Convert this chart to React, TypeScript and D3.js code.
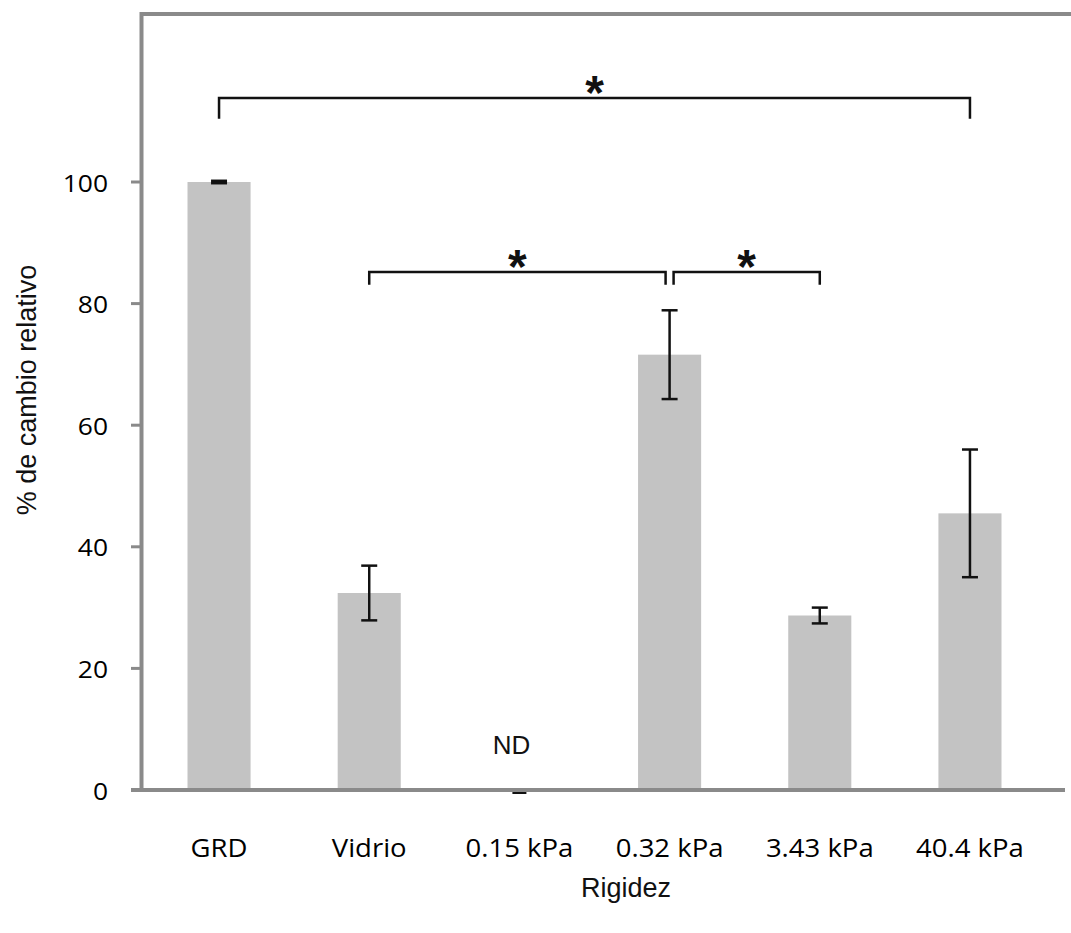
import React from "react";
import * as d3 from "d3";

const categories = ["GRD", "Vidrio", "0.15 kPa", "0.32 kPa", "3.43 kPa", "40.4 kPa"];
const means = [100, 32.4, 0, 71.6, 28.7, 45.5];
const errors = [0.2, 4.5, 0, 7.3, 1.3, 10.5];
const notDetected = ["0.15 kPa"];
const yTicks = [0, 20, 40, 60, 80, 100];
const brackets = [
  { from: "GRD", to: "40.4 kPa", level: 113.8, drop: 3.4, gapL: 0, gapR: 0 },
  { from: "Vidrio", to: "0.32 kPa", level: 85.2, drop: 2.1, gapL: 0, gapR: -4 },
  { from: "0.32 kPa", to: "3.43 kPa", level: 85.2, drop: 2.1, gapL: 4, gapR: 0 },
];
const yTitle = "% de cambio relativo";
const xTitle = "Rigidez";

const W = 1071;
const H = 933;
const AXIS = "#8a8a8a";
const BAR = "#c3c3c3";
const CAL = "'Open Sans', 'Noto Sans', sans-serif";
const ARIAL = "'Liberation Sans', Arial, sans-serif";

export default function App() {
  const x = d3.scaleBand<string>().domain(categories).range([187.5, 1001.5]).paddingInner(0.58).paddingOuter(0);
  const y = d3.scaleLinear().domain([0, 100]).range([790, 182]);
  const cx = (c: string) => (x(c) ?? 0) + x.bandwidth() / 2;
  const data = categories.map((c, i) => ({ c, m: means[i], e: errors[i] }));
  const capW = 16;

  return (
    <svg width={W} height={H} style={{ position: "absolute", left: 0, top: 0, background: "#fff" }}>
      {/* frame */}
      <line x1={141.5} x2={W} y1={14} y2={14} stroke={AXIS} strokeWidth={4} />
      <line x1={141.5} x2={141.5} y1={12} y2={y(0)} stroke={AXIS} strokeWidth={4} />
      {/* bars */}
      {data.map((d) =>
        d.m > 0 ? (
          <rect key={d.c} x={x(d.c)} y={y(d.m)} width={x.bandwidth()} height={y(0) - y(d.m)} fill={BAR} />
        ) : null
      )}
      {/* x axis */}
      <line x1={131} x2={1065} y1={y(0)} y2={y(0)} stroke={AXIS} strokeWidth={4} />
      {yTicks.map((t) => (
        <g key={t}>
          <line x1={131} x2={141} y1={y(t)} y2={y(t)} stroke={AXIS} strokeWidth={3} />
          <text
            transform={`translate(108,${y(t)}) scale(1.1,1)`}
            textAnchor="end"
            dominantBaseline="central"
            fontFamily={CAL}
            fontSize={24}
            fill="#000"
          >
            {t}
          </text>
        </g>
      ))}
      {/* error bars */}
      {data.map((d) => {
        const xc = cx(d.c);
        if (d.m === 0) {
          return (
            <line key={d.c} x1={xc - 7} x2={xc + 7} y1={y(0) + 3} y2={y(0) + 3} stroke="#111" strokeWidth={2} />
          );
        }
        return (
          <g key={d.c} stroke="#111" strokeWidth={2.5}>
            <line x1={xc} x2={xc} y1={y(d.m + d.e)} y2={y(d.m - d.e)} />
            <line x1={xc - capW / 2} x2={xc + capW / 2} y1={y(d.m + d.e)} y2={y(d.m + d.e)} />
            <line x1={xc - capW / 2} x2={xc + capW / 2} y1={y(d.m - d.e)} y2={y(d.m - d.e)} />
          </g>
        );
      })}
      {/* ND labels */}
      {notDetected.map((c) => (
        <text key={c} x={cx(c) - 8} y={754} textAnchor="middle" fontFamily={ARIAL} fontSize={26} fill="#111">
          ND
        </text>
      ))}
      {/* category labels */}
      {categories.map((c) => (
        <text
          key={c}
          transform={`translate(${cx(c)},857) scale(1.1,1)`}
          textAnchor="middle"
          fontFamily={CAL}
          fontSize={25}
          fill="#000"
        >
          {c}
        </text>
      ))}
      {/* significance brackets */}
      {brackets.map((b, i) => {
        const x1 = cx(b.from) + b.gapL;
        const x2 = cx(b.to) + b.gapR;
        const yl = y(b.level);
        const yd = y(b.level - b.drop);
        return (
          <g key={i}>
            <path d={`M${x1},${yd}V${yl}H${x2}V${yd}`} fill="none" stroke="#111" strokeWidth={2.5} />
            <text
              x={(x1 + x2) / 2}
              y={yl + 11}
              textAnchor="middle"
              fontFamily={ARIAL}
              fontWeight="bold"
              fontSize={48}
              fill="#111"
            >
              *
            </text>
          </g>
        );
      })}
      {/* axis titles */}
      <text x={626} y={897} textAnchor="middle" fontFamily={ARIAL} fontSize={27} fill="#111">
        {xTitle}
      </text>
      <text
        transform={`translate(36,390) rotate(-90)`}
        textAnchor="middle"
        fontFamily={ARIAL}
        fontSize={27}
        fill="#111"
      >
        {yTitle}
      </text>
    </svg>
  );
}
